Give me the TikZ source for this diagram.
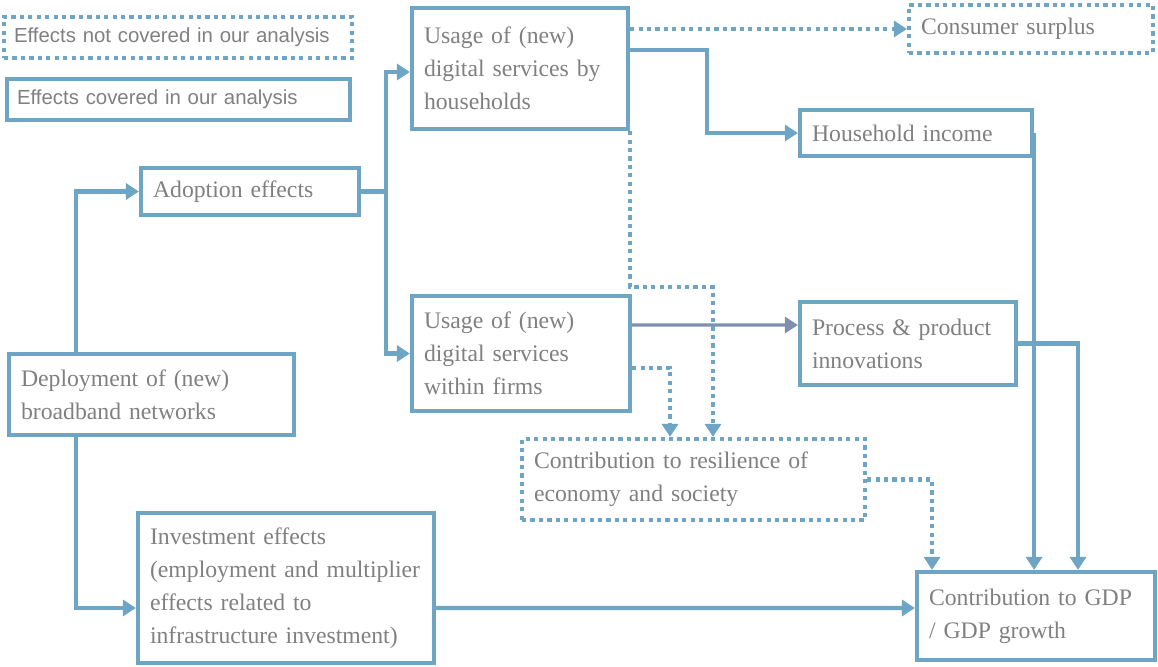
\documentclass[tikz,border=0pt]{standalone}
\usepackage{fontspec}
\setmainfont{Liberation Serif}
\newfontfamily\legendfont{Liberation Sans}
\usepackage{tikz}
\usetikzlibrary{arrows.meta, positioning}
\definecolor{boxblue}{RGB}{110,165,196}
\definecolor{innoline}{RGB}{128,142,176}
\definecolor{txtgray}{RGB}{128,128,128}
\tikzset{>={Triangle[length=0.26cm,width=0.32cm]},
    effect/.style={rectangle,draw=boxblue,line width=2.4pt,text=txtgray,
        align=left,inner xsep=0.24cm,font=\fontsize{13.5}{18.7}\selectfont},
    noeffect/.style={effect,dash pattern=on 2.4pt off 2.4pt},
    legend/.style={inner xsep=0.2cm,font=\legendfont\fontsize{11.6}{14}\selectfont},
    flow/.style={->,draw=boxblue,line width=2.4pt},
    dotflow/.style={flow,dash pattern=on 2.4pt off 2.4pt},
    innoflow/.style={->,draw=innoline,line width=1.8pt}}
\begin{document}
\begin{tikzpicture}
[x=0.02cm,y=-0.02cm]
\useasboundingbox (0,0) rectangle (1158,666);
\node[noeffect,legend,text width=6.56cm,minimum height=0.82cm] (legoff)  at (178,37.5)   {Effects not covered in our analysis};
\node[effect,legend,text width=6.46cm,minimum height=0.82cm]   (legon)   at (178.5,99.5)  {Effects covered in our analysis};
\node[effect,text width=3.88cm,minimum height=0.94cm]          (adopt)   at (250,191.5)   {Adoption effects};
\node[effect,text width=3.84cm,minimum height=2.42cm]          (usehh)   at (520,68.5)    {Usage of (new)\\digital services by\\households};
\node[noeffect,text width=4.40cm,minimum height=0.96cm]        (surplus) at (1031,29)     {Consumer surplus};
\node[effect,text width=4.16cm,minimum height=0.92cm]          (hhinc)   at (916,133)     {Household income};
\node[effect,text width=3.88cm,minimum height=2.30cm]          (usefirm) at (521,353.5)   {Usage of (new)\\digital services\\within firms};
\node[effect,text width=3.84cm,minimum height=1.66cm]          (process) at (908,343.5)   {Process \& product\\innovations};
\node[effect,text width=5.22cm,minimum height=1.62cm]          (deploy)  at (151.5,394.5) {Deployment of (new)\\broadband networks};
\node[noeffect,text width=6.38cm,minimum height=1.62cm]        (resil)   at (693.5,479.5) {Contribution to resilience of\\economy and society};
\node[effect,text width=5.44cm,minimum height=3.00cm]          (invest)  at (286,588)     {Investment effects\\(employment and multiplier\\effects related to\\infrastructure investment)};
\node[effect,text width=4.28cm,minimum height=1.76cm]          (gdp)     at (1036,616)    {Contribution to GDP\\/ GDP growth};
\draw[flow] ([xshift=1.38cm]deploy.north west) |- (adopt.west);
\draw[flow] ([xshift=1.38cm]deploy.south west) |- ([yshift=-0.4cm]invest.west);
\draw[flow] (adopt.east) -- ++(0.5cm,0) coordinate (trunk) |- ([yshift=-0.07cm]usehh.west);
\draw[flow] (trunk) |- (usefirm.west);
\draw[dotflow] (usehh.east |- surplus.west) -- (surplus.west);
\draw[flow] ([yshift=0.37cm]usehh.east) -- ++(1.54cm,0) |- (hhinc.west);
\draw[flow] (hhinc.east) -- (hhinc.east |- gdp.north);
\draw[flow] (process.east) -| ([xshift=0.84cm]gdp.north);
\draw[innoflow] ([yshift=0.57cm]usefirm.east) -- ([yshift=0.37cm]process.west);
\draw[dotflow] (usehh.south east) -- ++(0,-3.12cm) -| ([xshift=0.39cm]resil.north);
\draw[dotflow] ([yshift=-0.29cm]usefirm.east) -| ([xshift=-0.47cm]resil.north);
\draw[dotflow] (resil.east) -| ([xshift=-2.08cm]gdp.north);
\draw[flow] ([yshift=-0.4cm]invest.east) -- ([yshift=0.16cm]gdp.west);
\end{tikzpicture}
\end{document}
